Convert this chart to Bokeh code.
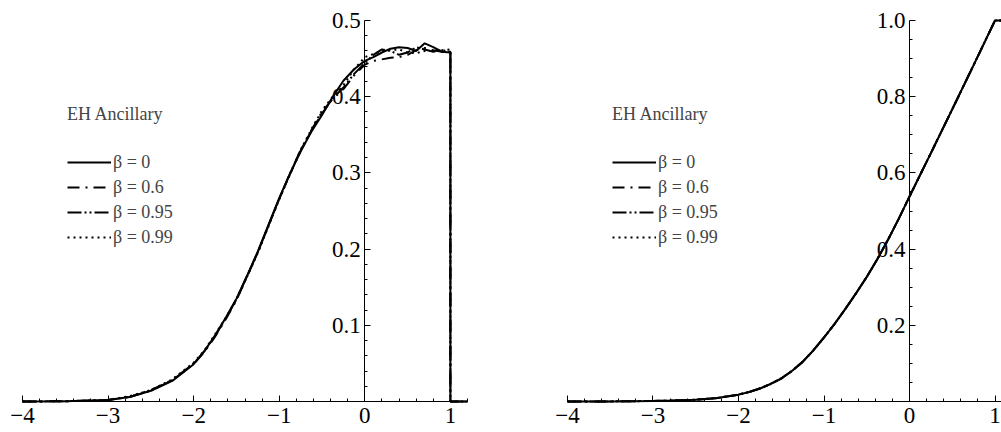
from bokeh.plotting import figure
from bokeh.models import Range1d, FixedTicker, Legend, LegendItem
from bokeh.layouts import row
from bokeh.embed import file_html
from bokeh.resources import INLINE

# ---------------- data ----------------
legend_title = "EH Ancillary"
series_labels = ["β = 0", "β = 0.6", "β = 0.95", "β = 0.99"]
series_dashes = ["solid", "12 6 2 6", "14 3 2 3 2 3", "2 4"]

x_ticks = [-4, -3, -2, -1, 0, 1]
x_tick_labels = ["−4", "−3", "−2", "−1", "0", "1"]
x_minor = [-3.8, -3.6, -3.4, -3.2, -2.8, -2.6, -2.4, -2.2, -1.8, -1.6, -1.4, -1.2,
           -0.8, -0.6, -0.4, -0.2, 0.2, 0.4, 0.6, 0.8, 1.2]

left_y_ticks = [0.1, 0.2, 0.3, 0.4, 0.5]
left_y_tick_labels = ["0.1", "0.2", "0.3", "0.4", "0.5"]
left_y_minor = [0.02, 0.04, 0.06, 0.08, 0.12, 0.14, 0.16, 0.18, 0.22, 0.24, 0.26, 0.28,
                0.32, 0.34, 0.36, 0.38, 0.42, 0.44, 0.46, 0.48]

right_y_ticks = [0.2, 0.4, 0.6, 0.8, 1.0]
right_y_tick_labels = ["0.2", "0.4", "0.6", "0.8", "1.0"]
right_y_minor = [0.05, 0.1, 0.15, 0.25, 0.3, 0.35, 0.45, 0.5, 0.55, 0.65, 0.7, 0.75,
                 0.85, 0.9, 0.95]

left_x = [-4.0, -3.5, -3.0, -2.75, -2.5, -2.25, -2.0,
          -1.875, -1.75, -1.625, -1.5, -1.375, -1.25, -1.125, -1.0,
          -0.875, -0.75, -0.625, -0.5, -0.375, -0.25, -0.125, 0.0,
          0.1, 0.2, 0.3, 0.4, 0.5, 0.6, 0.7, 0.8, 0.9, 1.0,
          1.0, 1.2]
left_b0 = [0.0, 0.0003, 0.002, 0.006, 0.014, 0.027, 0.049,
           0.066, 0.087, 0.110, 0.135, 0.165, 0.197, 0.232, 0.267,
           0.299, 0.328, 0.354, 0.376, 0.400, 0.421, 0.436, 0.447,
           0.452, 0.458, 0.463, 0.465, 0.464, 0.460, 0.470, 0.465, 0.459, 0.458,
           0.0, 0.0]
left_b06 = [0.0, 0.0003, 0.002, 0.006, 0.015, 0.028, 0.049,
            0.065, 0.085, 0.108, 0.133, 0.164, 0.196, 0.231, 0.266,
            0.298, 0.329, 0.356, 0.380, 0.397, 0.410, 0.428, 0.442,
            0.447, 0.449, 0.451, 0.452, 0.455, 0.461, 0.464, 0.461, 0.459, 0.458,
            0.0, 0.0]
left_b095 = [0.0, 0.0003, 0.002, 0.006, 0.014, 0.028, 0.050,
             0.066, 0.086, 0.109, 0.134, 0.165, 0.196, 0.231, 0.266,
             0.299, 0.330, 0.355, 0.378, 0.398, 0.412, 0.430, 0.444,
             0.455, 0.462, 0.460, 0.455, 0.458, 0.465, 0.462, 0.459, 0.461, 0.459,
             0.0, 0.0]
left_b099 = [0.0, 0.0003, 0.002, 0.007, 0.015, 0.029, 0.051,
             0.067, 0.088, 0.110, 0.134, 0.164, 0.195, 0.230, 0.265,
             0.298, 0.330, 0.357, 0.382, 0.400, 0.415, 0.436, 0.452,
             0.456, 0.460, 0.461, 0.462, 0.458, 0.457, 0.460, 0.460, 0.461, 0.462,
             0.0, 0.0]

right_x = [-4.0, -3.75, -3.5, -3.25, -3.0, -2.75, -2.5, -2.25, -2.0,
           -1.875, -1.75, -1.625, -1.5, -1.375, -1.25, -1.125, -1.0,
           -0.875, -0.75, -0.625, -0.5, -0.375, -0.25, -0.125, 0.0,
           0.25, 0.5, 0.75, 1.0, 1.08]
right_b0 = [0.0, 0.0, 0.0003, 0.0007, 0.0015, 0.0025, 0.0045, 0.009, 0.018,
            0.025, 0.034, 0.046, 0.060, 0.080, 0.104, 0.134, 0.168,
            0.204, 0.243, 0.284, 0.327, 0.374, 0.425, 0.480, 0.538,
            0.652, 0.767, 0.883, 1.0, 1.0]
right_b06 = [0.0, 0.0, 0.0003, 0.0007, 0.0015, 0.0025, 0.0046, 0.009, 0.018,
             0.025, 0.034, 0.046, 0.060, 0.080, 0.104, 0.134, 0.168,
             0.204, 0.243, 0.284, 0.327, 0.374, 0.425, 0.480, 0.538,
             0.652, 0.767, 0.883, 1.0, 1.0]
right_b095 = [0.0, 0.0, 0.0003, 0.0007, 0.0015, 0.0026, 0.0046, 0.009, 0.018,
              0.025, 0.034, 0.046, 0.061, 0.080, 0.104, 0.134, 0.168,
              0.204, 0.243, 0.284, 0.327, 0.374, 0.425, 0.480, 0.538,
              0.652, 0.767, 0.883, 1.0, 1.0]
right_b099 = [0.0, 0.0, 0.0003, 0.0007, 0.0015, 0.0026, 0.0046, 0.009, 0.018,
              0.025, 0.034, 0.046, 0.061, 0.080, 0.104, 0.134, 0.168,
              0.204, 0.243, 0.284, 0.327, 0.374, 0.425, 0.480, 0.538,
              0.652, 0.767, 0.883, 1.0, 1.0]

FONT = "Liberation Serif"


def make_panel(width, x_start, x_end, x_axis_end, y_start, y_end, legend_x,
               xs, ys_list, y_ticks, y_labels, y_minor):
    p = figure(width=width, height=432, output_backend="svg", toolbar_location=None,
               x_range=Range1d(x_start, x_end), y_range=Range1d(y_start, y_end),
               x_axis_location="below", y_axis_location="left")
    p.min_border = 0
    p.outline_line_color = None
    p.xgrid.visible = False
    p.ygrid.visible = False
    p.background_fill_color = "white"
    p.border_fill_color = "white"

    renderers = []
    for ys, dash in zip(ys_list, series_dashes):
        r = p.line(xs, ys, line_color="black", line_width=2, line_dash=dash)
        renderers.append(r)

    xa = p.xaxis[0]
    xa.fixed_location = 0
    xa.bounds = (x_ticks[0], x_axis_end)
    xa.ticker = FixedTicker(ticks=x_ticks, minor_ticks=x_minor)
    xa.major_label_overrides = {t: l for t, l in zip(x_ticks, x_tick_labels)}
    ya = p.yaxis[0]
    ya.fixed_location = 0
    ya.bounds = (0, y_ticks[-1])
    ya.ticker = FixedTicker(ticks=y_ticks, minor_ticks=y_minor)
    ya.major_label_overrides = {t: l for t, l in zip(y_ticks, y_labels)}
    for ax in (xa, ya):
        ax.axis_line_color = "black"
        ax.axis_line_width = 1
        ax.major_tick_line_color = "black"
        ax.minor_tick_line_color = "black"
        ax.major_tick_in = 6
        ax.major_tick_out = 0
        ax.minor_tick_in = 3
        ax.minor_tick_out = 0
        ax.major_label_text_font = FONT
        ax.major_label_text_font_size = "23px"
        ax.major_label_text_color = "black"
    xa.major_label_standoff = 6
    ya.major_label_standoff = 4

    items = [LegendItem(label=lbl, renderers=[r]) for lbl, r in zip(series_labels, renderers)]
    leg = Legend(items=items, title=legend_title, location=(legend_x, 184),
                 glyph_width=44, glyph_height=22, label_height=22, spacing=3,
                 label_standoff=2, padding=0, margin=0, title_standoff=26,
                 border_line_color=None, background_fill_alpha=0,
                 label_text_font=FONT, label_text_font_size="18px",
                 title_text_font=FONT, title_text_font_size="18px",
                 title_text_font_style="normal")
    p.add_layout(leg)
    return p


p1 = make_panel(500, -4.2571, 1.5856, 1.2, -0.04068, 0.52625, 67, left_x,
                [left_b0, left_b06, left_b095, left_b099],
                left_y_ticks, left_y_tick_labels, left_y_minor)
p2 = make_panel(501, -4.7836, 1.0760, 1.0760, -0.08136, 1.05249, 112, right_x,
                [right_b0, right_b06, right_b095, right_b099],
                right_y_ticks, right_y_tick_labels, right_y_minor)

layout = row(p1, p2, spacing=0)
open("out.html", "w").write(file_html(layout, INLINE))
